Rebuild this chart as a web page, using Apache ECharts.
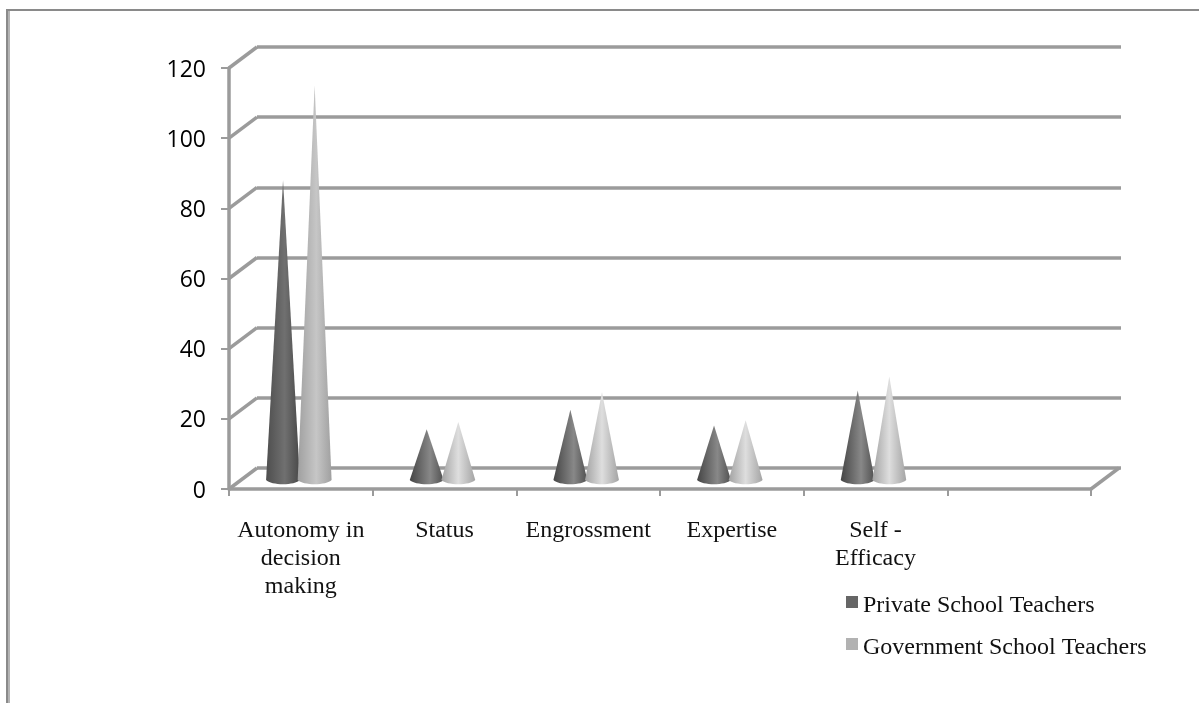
<!DOCTYPE html>
<html>
<head>
<meta charset="utf-8">
<style>html,body{margin:0;padding:0;background:#fff}#chart{width:1199px;height:703px}</style>
<script src="https://cdn.jsdelivr.net/npm/echarts@6/dist/echarts.min.js"></script>
</head>
<body>
<div id="chart"></div>
<script>
const categories = ['Autonomy in\ndecision\nmaking', 'Status', 'Engrossment', 'Expertise', 'Self -\nEfficacy', ''];
const privateTeachers = [85.5, 14.5, 20, 15.5, 25.5];
const governmentTeachers = [112.5, 16.5, 25, 17, 29.5];
const axisTicks = [0, 20, 40, 60, 80, 100, 120];

const LINE = '#9b9b9b';
const serif = '"Liberation Serif", serif';
const sans = '"Open Sans", sans-serif';

// Depth of the simulated 3D box, in pixels.
const DEPTH_X = 28, DEPTH_Y = -21;

const chart = echarts.init(document.getElementById('chart'), null, { renderer: 'canvas' });

// Oblique wall edges joining the front axis to the back wall.
function renderDepthEdges(params, api) {
  const cs = params.coordSys;
  const y = api.coord([0, api.value(1)])[1];
  const seg = (x) => ({
    type: 'line',
    shape: { x1: x, y1: y, x2: x + DEPTH_X, y2: y + DEPTH_Y },
    style: { stroke: LINE, lineWidth: 3.5, fill: null }
  });
  const children = [seg(cs.x)];
  if (api.value(1) === 0) children.push(seg(cs.x + cs.width));
  return { type: 'group', children };
}

// A cone: apex at the value, elliptical base on the zero line.
// Tall cones read flatter than short ones, so each size has its own shading.
function coneRenderer(sign, tallStops, shortStops) {
  const tallFill = new echarts.graphic.LinearGradient(0, 0, 1, 0, tallStops);
  const shortFill = new echarts.graphic.LinearGradient(0, 0, 1, 0, shortStops);
  return function (params, api) {
    const band = api.size([1, 0])[0];
    const value = api.value(1);
    const tip = api.coord([api.value(0), value]);
    const base = api.coord([api.value(0), 0]);
    const cx = tip[0] + sign * band * 0.11;
    const hw = band * 0.118;
    const rim = band * 0.03;
    const l = cx - hw, r = cx + hw, by = base[1];
    const d = 'M' + cx + ' ' + tip[1] + 'L' + r + ' ' + by +
      'C' + (r - hw * 0.3) + ' ' + (by + rim * 1.3) + ' ' + (l + hw * 0.3) + ' ' + (by + rim * 1.3) + ' ' + l + ' ' + by + 'Z';
    return { type: 'path', shape: { pathData: d }, style: { fill: value > 50 ? tallFill : shortFill } };
  };
}

const toPoints = (vals) => vals.map((v, i) => [i, v]);
const valueAxisBase = { type: 'value', min: 0, max: 120, interval: 20 };

chart.setOption({
  animation: false,
  backgroundColor: '#fff',
  grid: [
    { left: 229, top: 68, width: 862, height: 421 },
    { left: 229 + DEPTH_X, top: 68 + DEPTH_Y, width: 864, height: 421 },
    { left: 227, top: 59, width: 862, height: 421 }
  ],
  xAxis: [
    {
      type: 'category', gridIndex: 0, data: categories,
      axisLine: { lineStyle: { color: LINE, width: 3.5 } },
      axisTick: { show: true, length: 7, lineStyle: { color: LINE, width: 2 } },
      axisLabel: { interval: 0, margin: 28, fontFamily: serif, fontSize: 24, lineHeight: 28, color: '#111', verticalAlign: 'top' }
    },
    { type: 'category', gridIndex: 1, data: categories, show: false },
    { type: 'category', gridIndex: 2, data: categories, show: false }
  ],
  yAxis: [
    {
      ...valueAxisBase, gridIndex: 0,
      axisLine: { show: true, lineStyle: { color: LINE, width: 3.5 } },
      axisTick: { show: true, length: 8, lineStyle: { color: LINE, width: 2 } },
      axisLabel: {
        margin: 23,
        formatter: (v) => axisTicks.includes(v) ? '{n|' + v + '}' : '',
        rich: { n: { fontFamily: sans, fontSize: 23, color: '#000', padding: [4, 0, 0, 0] } }
      },
      splitLine: { show: false }
    },
    {
      ...valueAxisBase, gridIndex: 1,
      axisLine: { show: false }, axisTick: { show: false }, axisLabel: { show: false },
      splitLine: { show: true, lineStyle: { color: LINE, width: 3.5 } }
    },
    { ...valueAxisBase, gridIndex: 2, show: false, splitLine: { show: false } }
  ],
  legend: {
    orient: 'vertical', left: 846, top: 586, padding: 0, itemGap: 10, itemWidth: 12, itemHeight: 12,
    formatter: (name) => '{t|' + name + '}',
    textStyle: {
      rich: { t: { fontFamily: serif, fontSize: 24, color: '#111', lineHeight: 24, padding: [8, 0, 0, 0] } }
    },
    data: [
      { name: 'Private School Teachers', icon: 'rect', itemStyle: { color: '#666' } },
      { name: 'Government School Teachers', icon: 'rect', itemStyle: { color: '#b2b2b2' } }
    ]
  },
  series: [
    {
      type: 'custom', name: 'edges', xAxisIndex: 0, yAxisIndex: 0,
      renderItem: renderDepthEdges, data: axisTicks.map((t) => [0, t]), z: 1, silent: true
    },
    {
      type: 'custom', name: 'Private School Teachers', xAxisIndex: 2, yAxisIndex: 2, z: 3,
      renderItem: coneRenderer(-1, [
        { offset: 0, color: '#4e4e4e' }, { offset: 0.55, color: '#707070' }, { offset: 1, color: '#484848' }
      ], [
        { offset: 0, color: '#454545' }, { offset: 0.6, color: '#888888' }, { offset: 1, color: '#505050' }
      ]),
      data: toPoints(privateTeachers)
    },
    {
      type: 'custom', name: 'Government School Teachers', xAxisIndex: 2, yAxisIndex: 2, z: 4,
      renderItem: coneRenderer(1, [
        { offset: 0, color: '#a0a0a0' }, { offset: 0.55, color: '#c6c6c6' }, { offset: 1, color: '#a0a0a0' }
      ], [
        { offset: 0, color: '#a2a2a2' }, { offset: 0.5, color: '#dedede' }, { offset: 1, color: '#a4a4a4' }
      ]),
      data: toPoints(governmentTeachers)
    }
  ],
  graphic: [
    { type: 'line', silent: true, z: 0, shape: { x1: 9, y1: 9, x2: 9, y2: 703 }, style: { stroke: '#b4b4b4', lineWidth: 2 } },
    { type: 'line', silent: true, z: 0, shape: { x1: 7, y1: 9, x2: 7, y2: 703 }, style: { stroke: '#8a8a8a', lineWidth: 2 } },
    { type: 'line', silent: true, z: 0, shape: { x1: 6, y1: 10, x2: 1199, y2: 10 }, style: { stroke: '#8a8a8a', lineWidth: 2 } }
  ]
});
</script>
</body>
</html>
